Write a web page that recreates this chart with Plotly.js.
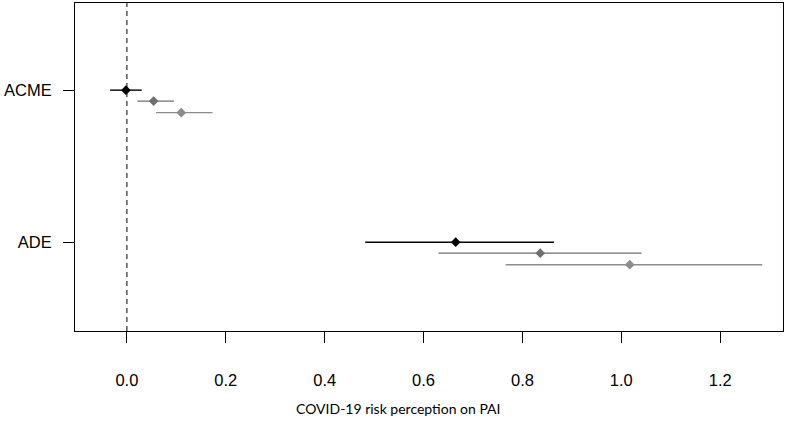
<!DOCTYPE html>
<html>
<head>
<meta charset="utf-8">
<script src="https://cdn.plot.ly/plotly-3.0.1.min.js"></script>
<style>html,body{margin:0;padding:0;background:#fff;}#chart{width:797px;height:430px;}</style>
</head>
<body>
<div id="chart"></div>
<script>
// Outcomes (y categories), top to bottom
const categories = ["ACME", "ADE"];
const categoryPos = [2, 1];
// Three models per outcome: estimate, lower and upper bounds
const modelNames = ["Model 1", "Model 2", "Model 3"];
const est   = [[-0.002, 0.665], [0.054, 0.836], [0.110, 1.017]];
const lower = [[-0.034, 0.482], [0.021, 0.630], [0.059, 0.766]];
const upper = [[0.030, 0.864], [0.095, 1.041], [0.173, 1.285]];
const modelOffset = [0, 0.072, 0.148];
const modelColors = ["#000000", "#6f6f6f", "#8c8c8c"];
const xTicks = [0, 0.2, 0.4, 0.6, 0.8, 1.0, 1.2];
const xTickText = ["0.0", "0.2", "0.4", "0.6", "0.8", "1.0", "1.2"];
const xTitle = "COVID-19 risk perception on PAI";

const traces = modelNames.map((name, m) => ({
  type: "scatter",
  mode: "markers",
  name: name,
  x: est[m],
  y: categoryPos.map(p => p - modelOffset[m]),
  marker: {symbol: "diamond", size: 7.5, color: modelColors[m]},
  error_x: {
    type: "data", symmetric: false,
    array: est[m].map((e, i) => upper[m][i] - e),
    arrayminus: est[m].map((e, i) => e - lower[m][i]),
    width: 0, thickness: 1.4, color: modelColors[m]
  },
  showlegend: false
})).reverse();

const layout = {
  width: 797, height: 430,
  margin: {l: 75, r: 14, t: 3, b: 99},
  paper_bgcolor: "#fff", plot_bgcolor: "#fff",
  font: {family: "Liberation Sans, Arial, sans-serif", color: "#000"},
  xaxis: {
    range: [-0.105, 1.327], tickvals: xTicks, ticktext: xTickText,
    showgrid: false, zeroline: false,
    showline: true, mirror: true, linecolor: "#000", linewidth: 1,
    ticks: "outside", ticklen: 11, tickcolor: "#000", tickwidth: 1,
    tickfont: {size: 16.5, family: "Liberation Sans, Arial, sans-serif", color: "#000"},
    ticklabelstandoff: 23
  },
  yaxis: {
    range: [0.416, 2.573], tickvals: categoryPos, ticktext: categories,
    showgrid: false, zeroline: false,
    showline: true, mirror: true, linecolor: "#000", linewidth: 1,
    ticks: "outside", ticklen: 11, tickcolor: "#000", tickwidth: 1,
    tickfont: {size: 16.5, family: "Liberation Sans, Arial, sans-serif", color: "#000"},
    ticklabelstandoff: 8
  },
  annotations: [{
    text: xTitle, xref: "paper", yref: "paper", x: 0.457, y: -0.235,
    xanchor: "center", yanchor: "middle", showarrow: false,
    font: {size: 14, family: "Lato, Open Sans, sans-serif", color: "#000"}
  }],
  shapes: [{
    type: "line", xref: "x", yref: "paper", x0: 0, x1: 0, y0: 0, y1: 1,
    line: {color: "#000", width: 1, dash: "5px,4px"}
  }]
};

Plotly.newPlot("chart", traces, layout, {displayModeBar: false, staticPlot: true});
</script>
</body>
</html>
